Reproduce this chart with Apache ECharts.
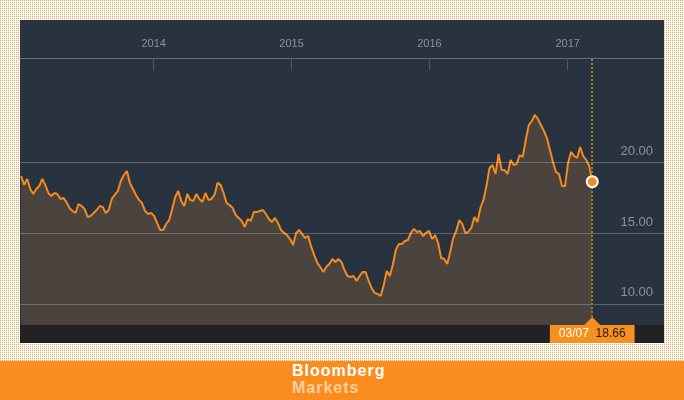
<!DOCTYPE html>
<html>
<head>
<meta charset="utf-8">
<script src="https://cdn.jsdelivr.net/npm/echarts@6/dist/echarts.min.js"></script>
<style>
  html, body { margin: 0; padding: 0; }
  body {
    width: 684px; height: 400px; position: relative; overflow: hidden;
    background:
      linear-gradient(90deg, transparent 1px, #ffffff 1px) 0 0 / 2px 2px,
      linear-gradient(180deg, transparent 1px, #ffffff 1px) 0 0 / 2px 2px,
      #f7a24f;
  }
  #panel { position: absolute; left: 20px; top: 20px; width: 644px; height: 323px; background: #29333f; }
  #strip { position: absolute; left: 20px; top: 325px; width: 644px; height: 18px; background: #222222; }
  #footer { position: absolute; left: 0; top: 361px; width: 684px; height: 39px; background: #fb8d1f; }
  #brand { position: absolute; left: 292px; top: 362px; font-family: "Liberation Sans", Arial, sans-serif; font-weight: bold; font-size: 16px; line-height: 17px; letter-spacing: 1px; }
  #brand .b1 { color: #ffffff; }
  #brand .b2 { color: #fdd0a0; }
  #chart { position: absolute; left: 0; top: 0; width: 684px; height: 400px; }
</style>
</head>
<body>
<div id="panel"></div>
<div id="strip"></div>
<div id="footer"></div>
<div id="brand"><div class="b1">Bloomberg</div><div class="b2">Markets</div></div>
<div id="chart"></div>
<script>
// ---- data ----
const startDate = '2013-01-15';   // first sample
const stepDays = 8;               // sampling step of the series
const values = [
  19.06, 18.43, 18.85, 18.14, 17.79, 18.14, 18.35, 18.85, 18.43, 17.86,
  17.65, 17.86, 17.79, 17.44, 17.51, 17.22, 16.80, 16.59, 16.45, 17.08,
  16.94, 16.73, 16.17, 16.24, 16.45, 16.66, 16.94, 16.87, 16.45, 16.66,
  17.44, 17.72, 18.00, 18.71, 19.13, 19.41, 18.57, 18.14, 17.72, 17.37,
  17.15, 16.59, 16.38, 16.45, 16.24, 15.74, 15.25, 15.25, 15.67, 15.95,
  16.73, 17.58, 18.00, 17.30, 16.94, 17.79, 17.37, 17.30, 17.79, 17.44,
  17.22, 17.86, 17.37, 17.44, 17.72, 18.57, 18.43, 17.86, 17.15, 17.01,
  16.80, 16.31, 16.10, 15.88, 15.46, 16.02, 15.88, 16.52, 16.52, 16.59,
  16.66, 16.38, 16.02, 15.81, 16.10, 15.74, 15.25, 15.04, 14.89, 14.61,
  14.19, 15.04, 15.25, 14.96, 14.68, 14.82, 14.05, 13.48, 12.92, 12.63,
  12.28, 12.63, 12.85, 13.20, 12.99, 13.20, 12.99, 12.42, 12.00, 11.93,
  12.00, 11.65, 12.00, 12.28, 12.28, 11.65, 11.15, 10.80, 10.73, 10.59,
  11.36, 12.35, 12.00, 12.78, 13.83, 14.26, 14.26, 14.47, 14.54, 15.04,
  15.32, 15.11, 15.18, 14.82, 15.04, 15.18, 14.61, 14.89, 14.33, 13.27,
  13.20, 12.85, 13.69, 14.68, 15.18, 15.95, 15.67, 15.04, 15.11, 15.39,
  16.17, 15.81, 16.80, 17.37, 18.35, 19.63, 19.84, 19.20, 20.61, 19.48,
  19.48, 19.20, 20.19, 19.84, 19.91, 20.54, 20.40, 21.60, 22.66, 22.94,
  23.37, 23.09, 22.66, 22.24, 21.74, 20.90, 20.05, 19.34, 19.20, 18.35,
  18.35, 19.98, 20.76, 20.47, 20.33, 21.11, 20.47, 20.19, 19.77, 18.66
];
const gridLevels = [10, 15, 20];
const xMin = '2013-01-12';
const xMax = '2017-09-13';
const yMin = 8.54;
const yMax = 27.39;

// ---- build ----
const DAY = 86400000;
const t0 = Date.parse(startDate + 'T00:00:00Z');
const seriesData = values.map((v, i) => [t0 + i * stepDays * DAY, v]);
const last = seriesData[seriesData.length - 1];
const lastD = new Date(last[0]);
const pad = n => (n < 10 ? '0' : '') + n;
const lastLabel = pad(lastD.getUTCMonth() + 1) + '/' + pad(lastD.getUTCDate());

const chart = echarts.init(document.getElementById('chart'), null, { renderer: 'canvas' });
const ORANGE = '#f58a1f';
chart.setOption({
  animation: false,
  useUTC: true,
  backgroundColor: 'transparent',
  grid: { left: 20, right: 20, top: 58, bottom: 75, containLabel: false },
  xAxis: {
    type: 'time',
    position: 'top',
    min: Date.parse(xMin + 'T00:00:00Z'),
    max: Date.parse(xMax + 'T00:00:00Z'),
    splitNumber: 4,
    minInterval: 365 * DAY,
    axisLine: { show: true, lineStyle: { color: '#686f77', width: 1 } },
    axisTick: { show: true, inside: true, length: 12, lineStyle: { color: '#535a62', width: 1 } },
    axisLabel: {
      color: '#8b939b', fontSize: 11, fontFamily: 'Liberation Sans, Arial, sans-serif', margin: 9,
      formatter: v => String(new Date(v).getUTCFullYear())
    },
    splitLine: { show: false }
  },
  yAxis: {
    type: 'value', min: yMin, max: yMax, show: false,
    splitLine: { show: false }
  },
  series: [{
    type: 'line',
    data: seriesData,
    showSymbol: false,
    symbol: 'none',
    lineStyle: { color: ORANGE, width: 2 },
    itemStyle: { color: ORANGE },
    areaStyle: { color: '#4b433d', opacity: 1, origin: 'start' },
    z: 2,
    markLine: {
      silent: true,
      symbol: 'none',
      animation: false,
      data: gridLevels.map(l => ({
        yAxis: l,
        lineStyle: { color: 'rgba(255,255,255,0.24)', width: 1, type: 'solid' },
        label: {
          show: true, position: 'insideEndTop', distance: [11, 5],
          color: '#8b939b', fontSize: 13, fontFamily: 'Liberation Sans, Arial, sans-serif',
          formatter: p => Number(p.value).toFixed(2)
        }
      })).concat([{
        xAxis: last[0],
        lineStyle: { color: '#a07a22', width: 2, type: [2, 2] },
        label: {
          show: true, position: 'start', distance: 0,
          backgroundColor: '#f7901e', padding: [0, 9], lineHeight: 18,
          fontFamily: 'Liberation Sans, Arial, sans-serif',
          formatter: () => '{d|' + lastLabel + '}  {v|' + last[1].toFixed(2) + '}',
          rich: {
            d: { color: '#ffffff', fontSize: 12, lineHeight: 18, fontFamily: 'Liberation Sans, Arial, sans-serif' },
            v: { color: '#1a1a1a', fontSize: 12, lineHeight: 18, fontFamily: 'Liberation Sans, Arial, sans-serif' }
          }
        }
      }])
    },
    markPoint: {
      silent: true,
      animation: false,
      label: { show: false },
      data: [
        { coord: [last[0], yMin], symbol: 'triangle', symbolSize: [16, 8], symbolOffset: [0, -4],
          itemStyle: { color: '#f7901e' } },
        { coord: last, symbol: 'circle', symbolSize: 11,
          itemStyle: { color: ORANGE, borderColor: '#ffffff', borderWidth: 2 } }
      ]
    }
  }]
});
</script>
</body>
</html>
